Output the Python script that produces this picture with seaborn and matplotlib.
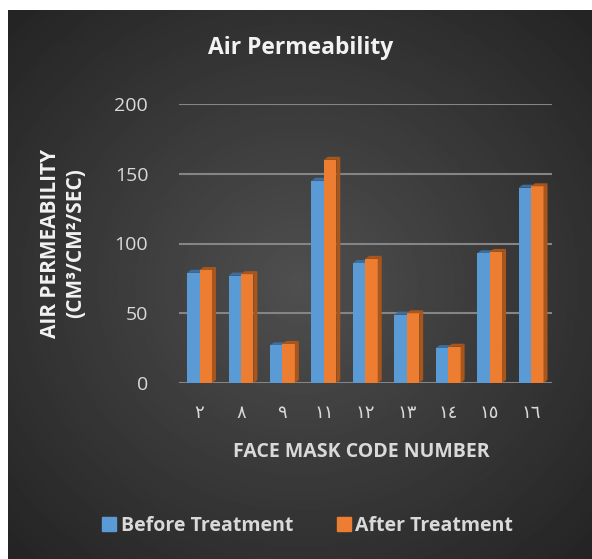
import numpy as np
import pandas as pd
import matplotlib.pyplot as plt
import seaborn as sns
from matplotlib.patches import Polygon
from matplotlib.lines import Line2D

# Datos
codes = ['٢', '٨', '٩', '١١', '١٢', '١٣', '١٤', '١٥', '١٦']
before = [79, 77, 27, 145, 86, 49, 25, 93, 140]
after = [81, 78, 28, 160, 89, 50, 26, 94, 141]
series = ['Before Treatment', 'After Treatment']
colores = ['#5B9BD5', '#ED7D31']
lados = ['#3D6E9E', '#A9561D']

df = pd.DataFrame({
    'code': codes + codes,
    'value': before + after,
    'serie': [series[0]] * len(codes) + [series[1]] * len(codes),
})

sns.set_style('dark')
plt.rcParams['font.family'] = ['Open Sans', 'DejaVu Sans']

fig = plt.figure(figsize=(5.92, 5.59), dpi=100)
fig.patch.set_facecolor('white')

# Fondo con degradado radial
bg = fig.add_axes([8 / 592, 0, 584 / 592, 549 / 559])
yy, xx = np.mgrid[-1:1:400j, -1:1:400j]
r = np.sqrt(xx ** 2 + yy ** 2) / np.sqrt(2)
bg.imshow(0.31 - 0.17 * r, cmap='gray', vmin=0, vmax=1, aspect='auto')
bg.axis('off')

ax = fig.add_axes([178.8 / 592, 176 / 559, 373 / 592, 279 / 559])
ax.patch.set_alpha(0)

sns.barplot(data=df, x='code', y='value', hue='serie', palette=colores,
            width=0.6, saturation=1, legend=False, ax=ax, zorder=3,
            edgecolor='none', linewidth=0)

ax.set_xlim(-0.5, 8.5)
ax.set_ylim(0, 200)
ax.set_yticks([0, 50, 100, 150, 200])
ax.yaxis.grid(True, color='#858585', lw=1.5, zorder=0)
ax.xaxis.grid(False)
ax.set_axisbelow(True)
for s in ax.spines.values():
    s.set_visible(False)

ax.tick_params(axis='y', colors='#d9d9d9', labelsize=14, pad=22, length=0)
ax.tick_params(axis='x', colors='#d9d9d9', labelsize=13, pad=15, length=0)

# Efecto 3D: caras laterales y superiores a partir de las barras
dx, dy = 4, 3
for i, p in enumerate(list(ax.patches)):
    lado = lados[0] if i < len(codes) else lados[1]
    x, w, h = p.get_x(), p.get_width(), p.get_height()
    xr0, yb = ax.transData.transform((x + w, 0))
    xr1, yt = ax.transData.transform((x + w, h))
    xl, _ = ax.transData.transform((x, h))
    z = 2.5 if i < len(codes) else 3.5
    side = Polygon([(xr0, yb), (xr1, yt), (xr1 + dx, yt + dy), (xr0 + dx, yb + dy)],
                   closed=True, facecolor=lado, edgecolor='none', transform=None, zorder=z)
    top = Polygon([(xl, yt), (xr1, yt), (xr1 + dx, yt + dy), (xl + dx, yt + dy)],
                  closed=True, facecolor=lado, edgecolor='none', transform=None, zorder=z)
    ax.add_artist(side)
    ax.add_artist(top)

ax.set_xlabel('FACE MASK CODE NUMBER', fontsize=14, fontweight='bold', color='#d9d9d9')
ax.xaxis.set_label_coords(0.488, -0.247)
ax.xaxis.label.set_va('center')

ax.set_ylabel('AIR PERMEABILITY\n(CM³/CM²/SEC)', fontsize=15, fontweight='bold',
              color='#f2f2f2', linespacing=1.3)
ax.yaxis.set_label_coords(-0.31, 0.5)
ax.yaxis.label.set_va('center')

fig.text(0.507, 0.915, 'Air Permeability', ha='center', va='center',
         fontsize=16.5, fontweight='bold', color='#f2f2f2')

handles = [Line2D([], [], marker='s', ls='', color=c, markersize=10) for c in colores]
fig.legend(handles, series, loc='center', bbox_to_anchor=(0.519, 0.059), ncol=2,
           frameon=False, prop={'weight': 'bold', 'size': 14}, labelcolor='#d9d9d9',
           handletextpad=0.2, columnspacing=2.2, handlelength=0.8)

plt.savefig('out.png', dpi=100)
